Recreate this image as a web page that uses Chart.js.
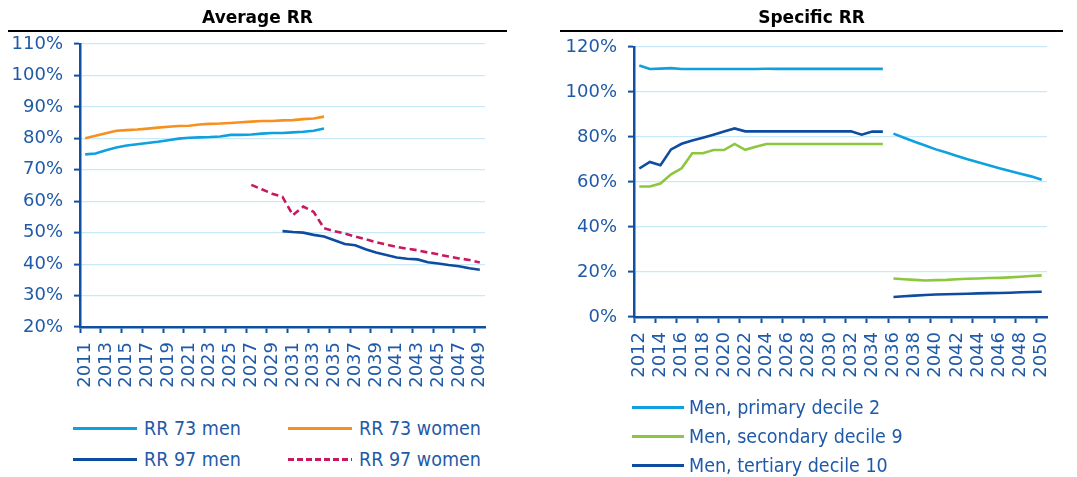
<!DOCTYPE html>
<html><head><meta charset="utf-8">
<script src="https://cdn.jsdelivr.net/npm/chart.js@4/dist/chart.umd.min.js"></script>
<style>
html,body{margin:0;padding:0;background:#fff;}
#wrap{position:relative;width:1077px;height:477px;overflow:hidden;background:#fff;}
canvas{position:absolute;top:0;}
#c1{left:0;}
#c2{left:543px;}
.ttl{position:absolute;top:0;height:20px;line-height:20px;padding:7px 0 3px 0;text-align:center;
  font-family:'DejaVu Sans',sans-serif;font-weight:bold;font-size:17px;color:#000;border-bottom:2px solid #000;}
.item{position:absolute;display:flex;align-items:center;white-space:nowrap;height:26px;
  font-family:'DejaVu Sans Condensed','DejaVu Sans',sans-serif;font-stretch:condensed;font-size:19.5px;color:#1f5aa8;}
.sw{display:inline-block;height:3px;}
</style>
</head><body>
<div id="wrap">
<canvas id="c1" width="515" height="400"></canvas>
<canvas id="c2" width="534" height="400"></canvas>
<div id="titles"></div>
<div id="legends"></div>
</div>
<script>
// ---------- data ----------
const yearsLeft = ['2011','2012','2013','2014','2015','2016','2017','2018','2019','2020','2021','2022','2023','2024','2025','2026','2027','2028','2029','2030','2031','2032','2033','2034','2035','2036','2037','2038','2039','2040','2041','2042','2043','2044','2045','2046','2047','2048','2049'];
const yearsRight = ['2012','2013','2014','2015','2016','2017','2018','2019','2020','2021','2022','2023','2024','2025','2026','2027','2028','2029','2030','2031','2032','2033','2034','2035','2036','2037','2038','2039','2040','2041','2042','2043','2044','2045','2046','2047','2048','2049','2050'];

// Average RR (percent), each with its first year
const rr73MenStart = '2011';
const rr73Men = [74.9, 75.2, 76.2, 77.1, 77.7, 78.1, 78.5, 78.9, 79.4, 79.9, 80.2, 80.3, 80.4, 80.6, 81.1, 81.1, 81.2, 81.5, 81.7, 81.7, 81.9, 82.1, 82.4, 83.1];
const rr73WomenStart = '2011';
const rr73Women = [80.0, 80.8, 81.6, 82.4, 82.6, 82.8, 83.1, 83.4, 83.7, 83.9, 84.0, 84.4, 84.6, 84.7, 84.9, 85.1, 85.3, 85.5, 85.5, 85.7, 85.8, 86.1, 86.3, 86.9];
const rr97MenStart = '2030';
const rr97Men = [50.5, 50.2, 50.0, 49.3, 48.8, 47.6, 46.4, 46.0, 44.7, 43.7, 42.9, 42.1, 41.7, 41.5, 40.6, 40.2, 39.7, 39.3, 38.7, 38.2];
const rr97WomenStart = '2027';
const rr97Women = [65.2, 63.8, 62.4, 61.4, 55.6, 58.3, 56.6, 51.4, 50.5, 49.7, 48.8, 47.9, 47.0, 46.2, 45.5, 44.9, 44.4, 43.7, 43.1, 42.4, 41.8, 41.3, 40.5];

// Specific RR (percent), 2012-2050; the lines break between 2035 and 2036
const breakAfterYear = '2035';
const primaryDecile2 = [111.8, 110.2, 110.4, 110.6, 110.2, 110.2, 110.2, 110.2, 110.2, 110.2, 110.2, 110.2, 110.3, 110.3, 110.3, 110.3, 110.3, 110.3, 110.3, 110.3, 110.3, 110.3, 110.3, 110.3,
  81.5, 79.7, 77.9, 76.2, 74.5, 73.1, 71.6, 70.1, 68.8, 67.4, 66.1, 64.9, 63.7, 62.5, 61.0];
const secondaryDecile9 = [58.0, 58.0, 59.3, 63.4, 66.1, 72.8, 72.8, 74.2, 74.2, 76.9, 74.3, 75.7, 76.9, 76.9, 76.9, 76.9, 76.9, 76.9, 76.9, 76.9, 76.9, 76.9, 76.9, 76.9,
  17.1, 16.8, 16.5, 16.2, 16.4, 16.5, 16.8, 17.0, 17.1, 17.3, 17.4, 17.6, 17.9, 18.2, 18.5];
const tertiaryDecile10 = [66.0, 68.9, 67.5, 74.5, 77.0, 78.4, 79.7, 81.0, 82.4, 83.8, 82.5, 82.5, 82.5, 82.5, 82.5, 82.5, 82.5, 82.5, 82.5, 82.5, 82.5, 81.0, 82.4, 82.4,
  8.9, 9.2, 9.5, 9.8, 10.0, 10.1, 10.2, 10.3, 10.5, 10.6, 10.7, 10.8, 11.0, 11.1, 11.2];

const leftTicks = {min: 20, max: 110, step: 10};
const rightTicks = {min: 0, max: 120, step: 20};
const titles = ['Average RR', 'Specific RR'];

// ---------- styles ----------
const C = {
  lightBlue: '#0fa0e0', orange: '#f7901e', darkBlue: '#0d4c9f', crimson: '#c8185e', green: '#8dc63f',
  axis: '#1150a0', label: '#1f5aa8', grid: '#c8eaf8'
};
const FONT = "'DejaVu Sans', sans-serif";

function pad(labels, start, values) {
  const out = labels.map(() => null);
  const s = labels.indexOf(start);
  values.forEach((v, i) => { out[s + i] = v; });
  return out;
}

function lineDs(label, data, color, extra) {
  return Object.assign({
    label, data, borderColor: color, backgroundColor: color,
    borderWidth: 2.6, pointRadius: 0, pointHoverRadius: 0, tension: 0, fill: false, spanGaps: false
  }, extra || {});
}

function makeOptions(cfg) {
  return {
    responsive: false, animation: false, events: [],
    layout: {padding: {left: 0, right: cfg.padRight, top: cfg.padTop, bottom: 0}},
    plugins: {legend: {display: false}, tooltip: {enabled: false}, title: {display: false}},
    scales: {
      x: {
        type: 'category', offset: true,
        grid: {display: true, drawOnChartArea: false, offset: true, tickLength: 6, tickWidth: 2,
          tickColor: (ctx) => (ctx.index !== undefined && ctx.index % 2 === 0) ? C.axis : 'rgba(0,0,0,0)'},
        border: {display: true, color: C.axis, width: 2.5},
        ticks: {autoSkip: false, minRotation: 90, maxRotation: 90, padding: 9, color: C.label,
          font: {family: FONT, size: 18},
          callback: function(v, i) { return i % 2 === 0 ? this.getLabelForValue(v) : ''; }},
        afterFit: (s) => { s.height = cfg.xHeight; }
      },
      y: {
        min: cfg.ticks.min, max: cfg.ticks.max,
        ticks: {stepSize: cfg.ticks.step, padding: 11, color: C.label, font: {family: FONT, size: 18},
          callback: (v) => v + '%'},
        grid: {color: C.grid, lineWidth: 1.2, tickLength: 6, tickWidth: 2, tickColor: C.axis},
        border: {display: true, color: C.axis, width: 2.5},
        afterFit: (s) => { s.width = cfg.yWidth; }
      }
    }
  };
}

new Chart(document.getElementById('c1'), {
  type: 'line',
  data: {
    labels: yearsLeft,
    datasets: [
      lineDs('RR 73 men', pad(yearsLeft, rr73MenStart, rr73Men), C.lightBlue),
      lineDs('RR 73 women', pad(yearsLeft, rr73WomenStart, rr73Women), C.orange),
      lineDs('RR 97 men', pad(yearsLeft, rr97MenStart, rr97Men), C.darkBlue),
      lineDs('RR 97 women', pad(yearsLeft, rr97WomenStart, rr97Women), C.crimson, {borderDash: [7, 4]})
    ]
  },
  options: makeOptions({padTop: 44, padRight: 30, xHeight: 73, yWidth: 80, ticks: leftTicks})
});

const breakIdx = yearsRight.indexOf(breakAfterYear);
const seg = {borderColor: (ctx) => ctx.p0DataIndex === breakIdx ? 'rgba(0,0,0,0)' : undefined};
new Chart(document.getElementById('c2'), {
  type: 'line',
  data: {
    labels: yearsRight,
    datasets: [
      lineDs('Men, primary decile 2', primaryDecile2, C.lightBlue, {segment: seg}),
      lineDs('Men, secondary decile 9', secondaryDecile9, C.green, {segment: seg}),
      lineDs('Men, tertiary decile 10', tertiaryDecile10, C.darkBlue, {segment: seg})
    ]
  },
  options: makeOptions({padTop: 47, padRight: 30, xHeight: 83, yWidth: 91, ticks: rightTicks})
});

// ---------- HTML titles ----------
const titleBoxes = [{x: 8, w: 499}, {x: 560, w: 503}];
const tt = document.getElementById('titles');
titles.forEach((text, i) => {
  const d = document.createElement('div');
  d.className = 'ttl';
  d.style.left = titleBoxes[i].x + 'px';
  d.style.width = titleBoxes[i].w + 'px';
  d.textContent = text;
  tt.appendChild(d);
});

// ---------- HTML legends ----------
const legendItems = [
  {text: 'RR 73 men', color: C.lightBlue, x: 73, y: 428, w: 64, gap: 7},
  {text: 'RR 73 women', color: C.orange, x: 288, y: 428, w: 64, gap: 7},
  {text: 'RR 97 men', color: C.darkBlue, x: 73, y: 459, w: 64, gap: 7},
  {text: 'RR 97 women', color: C.crimson, dash: true, x: 288, y: 459, w: 64, gap: 7},
  {text: 'Men, primary decile 2', color: C.lightBlue, x: 632, y: 407, w: 52, gap: 5},
  {text: 'Men, secondary decile 9', color: C.green, x: 632, y: 436, w: 52, gap: 5},
  {text: 'Men, tertiary decile 10', color: C.darkBlue, x: 632, y: 465, w: 52, gap: 5}
];
const lg = document.getElementById('legends');
legendItems.forEach(it => {
  const d = document.createElement('div');
  d.className = 'item';
  d.style.left = it.x + 'px';
  d.style.top = (it.y - 13) + 'px';
  const sw = document.createElement('span');
  sw.className = 'sw';
  sw.style.width = it.w + 'px';
  sw.style.marginRight = it.gap + 'px';
  sw.style.background = it.dash
    ? `repeating-linear-gradient(90deg, ${it.color} 0 6px, transparent 6px 9px)`
    : it.color;
  const t = document.createElement('span');
  t.textContent = it.text;
  d.appendChild(sw); d.appendChild(t);
  lg.appendChild(d);
});
</script>
</body></html>
